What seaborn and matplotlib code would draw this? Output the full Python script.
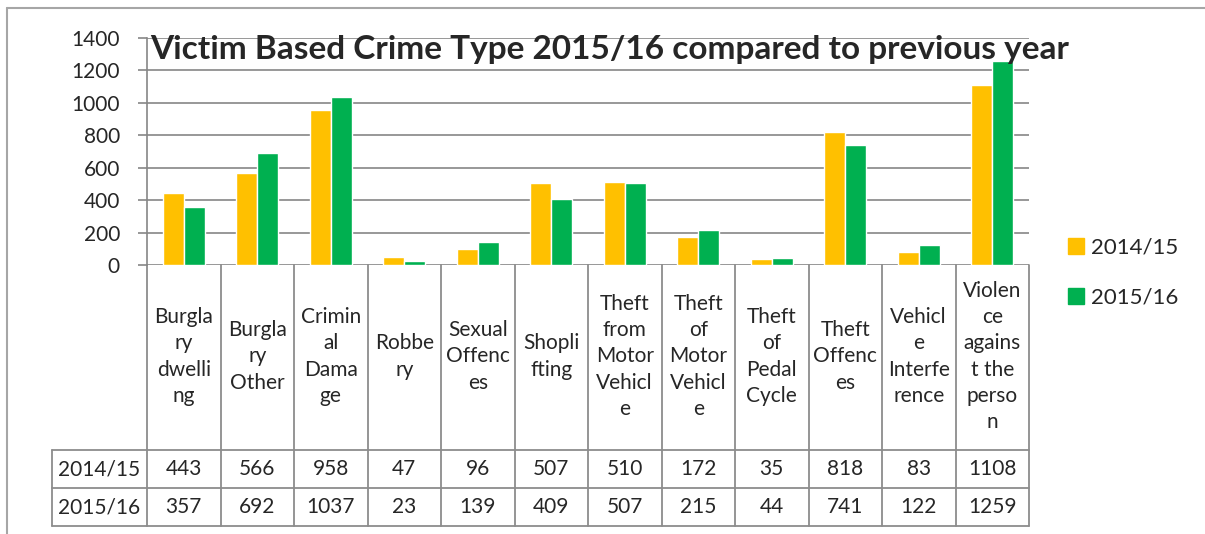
import numpy as np
import pandas as pd
import matplotlib
matplotlib.use('Agg')
import matplotlib.pyplot as plt
from matplotlib.lines import Line2D
import seaborn as sns

# chart data
categories = ['Burglary dwelling', 'Burglary Other', 'Criminal Damage', 'Robbery',
              'Sexual Offences', 'Shoplifting', 'Theft from Motor Vehicle',
              'Theft of Motor Vehicle', 'Theft of Pedal Cycle', 'Theft Offences',
              'Vehicle Interference', 'Violence against the person']
# labels as Excel wrapped them in the table cells
wrapped_labels = ['Burgla\nry\ndwelli\nng', 'Burgla\nry\nOther', 'Crimin\nal\nDama\nge',
                  'Robbe\nry', 'Sexual\nOffenc\nes', 'Shopli\nfting',
                  'Theft\nfrom\nMotor\nVehicl\ne', 'Theft\nof\nMotor\nVehicl\ne',
                  'Theft\nof\nPedal\nCycle', 'Theft\nOffenc\nes',
                  'Vehicl\ne\nInterfe\nrence', 'Violen\nce\nagains\nt the\nperso\nn']
years = ['2014/15', '2015/16']
counts_1415 = [443, 566, 958, 47, 96, 507, 510, 172, 35, 818, 83, 1108]
counts_1516 = [357, 692, 1037, 23, 139, 409, 507, 215, 44, 741, 122, 1259]
y_ticks = [0, 200, 400, 600, 800, 1000, 1200, 1400]

colors = ['#FFC000', '#00B050']
grid_col = '#868686'
font = ['Lato', 'DejaVu Sans']
fs = 15

df = pd.DataFrame({
    'category': categories * 2,
    'year': [years[0]] * len(categories) + [years[1]] * len(categories),
    'count': counts_1415 + counts_1516,
})

sns.set_style('white')
plt.rcParams['font.family'] = font

W, H = 1205, 534
fig = plt.figure(figsize=(W / 100, H / 100), dpi=100)

# pixel layout
x_left, x_right = 147, 1029
y_top, y_zero = 38, 265
y_row1, y_row2, y_bot = 450, 488, 526
x_head = 52

# background axes in pixel coordinates for frame + table
bg = fig.add_axes([0, 0, 1, 1])
bg.set_xlim(0, W)
bg.set_ylim(H, 0)
bg.axis('off')
bg.plot([7, W], [8, 8], color='#a6a6a6', lw=1.5)
bg.plot([7, 7], [8, H], color='#a6a6a6', lw=1.5)

ax = fig.add_axes([x_left / W, 1 - y_zero / H, (x_right - x_left) / W, (y_zero - y_top) / H])
sns.barplot(data=df, x='category', y='count', hue='year', order=categories,
            palette=colors, saturation=1, width=0.57, gap=0, ax=ax, legend=False)
ax.set_ylim(0, 1400)
ax.set_xlim(-0.5, len(categories) - 0.5)
ax.set_yticks(y_ticks)
ax.set_yticklabels([str(t) for t in y_ticks], fontsize=fs)
ax.set_xticks([])
ax.set_xlabel('')
ax.set_ylabel('')
ax.grid(False)
for t in y_ticks:
    ax.axhline(t, color=grid_col, lw=1.2, zorder=0)
ax.set_axisbelow(True)
for s in ['top', 'right', 'bottom']:
    ax.spines[s].set_visible(False)
ax.spines['left'].set_color(grid_col)
ax.spines['left'].set_linewidth(1.2)
ax.tick_params(axis='y', length=6.5, width=1.2, color=grid_col, pad=13, direction='out', left=True)
ax.patch.set_alpha(0)

# title
fig.text(150 / W, 1 - 49 / H, 'Victim Based Crime Type 2015/16 compared to previous year',
         fontsize=24, fontweight='bold', ha='left', va='center')

# data table under the chart
ncat = len(categories)
col_w = (x_right - x_left) / ncat
edges = [x_left + i * col_w for i in range(ncat + 1)]
lc = '#8c8c8c'
for i, xe in enumerate(edges):
    bg.plot([xe, xe], [y_zero, y_bot], color=lc, lw=1.3)
bg.plot([x_head, x_head], [y_row1, y_bot], color=lc, lw=1.3)
for yy in [y_row1, y_row2, y_bot]:
    bg.plot([x_head, x_right], [yy, yy], color=lc, lw=1.3)

for i, lab in enumerate(wrapped_labels):
    cx = (edges[i] + edges[i + 1]) / 2
    bg.text(cx, (y_zero + y_row1) / 2 - 1, lab, ha='center', va='center',
            fontsize=fs, linespacing=1.38)
for r, (yr, vals) in enumerate(zip(years, [counts_1415, counts_1516])):
    cy = (y_row1 + y_row2) / 2 if r == 0 else (y_row2 + y_bot) / 2
    bg.text((x_head + x_left) / 2, cy, yr, ha='center', va='center', fontsize=fs)
    for i, v in enumerate(vals):
        cx = (edges[i] + edges[i + 1]) / 2
        bg.text(cx, cy, str(v), ha='center', va='center', fontsize=fs)

# legend
handles = [Line2D([], [], marker='s', ls='', markersize=11, color=c) for c in colors]
fig.legend(handles, years, loc='center left', bbox_to_anchor=(1067 / W, 1 - 273 / H),
           frameon=False, fontsize=16, labelspacing=1.35, handletextpad=0.3,
           handlelength=0.8, borderpad=0, borderaxespad=0)

fig.savefig('out.png', dpi=100)
